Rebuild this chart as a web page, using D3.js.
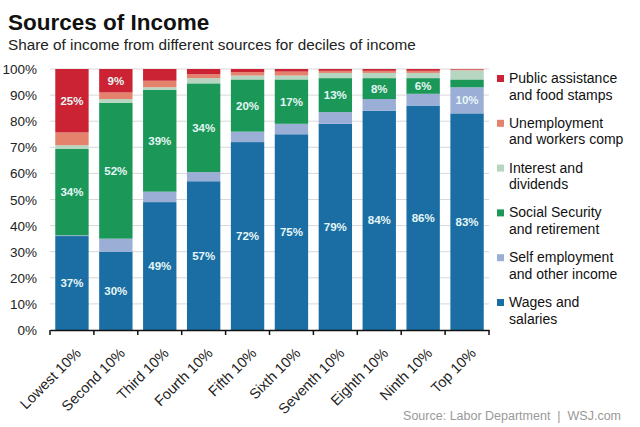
<!DOCTYPE html>
<html>
<head>
<meta charset="utf-8">
<script src="https://cdn.jsdelivr.net/npm/d3@7"></script>
<style>
  body { margin: 0; background: #fff; }
  svg { font-family: "Liberation Sans", Arial, sans-serif; }
</style>
</head>
<body>
<svg id="chart" width="640" height="427"></svg>
<script>
// 数据
const deciles = ["Lowest 10%", "Second 10%", "Third 10%", "Fourth 10%", "Fifth 10%",
  "Sixth 10%", "Seventh 10%", "Eighth 10%", "Ninth 10%", "Top 10%"]
const wages = [37, 30, 49, 57, 72, 75, 79, 84, 86, 83]
const selfEmployment = [0.3, 5, 4, 3.5, 4, 4, 4.5, 4.5, 4.5, 10]
const socialSecurity = [34, 52, 39, 34, 20, 17, 13, 8, 6, 3]
const interest = [1.5, 1.5, 1, 2, 1.5, 1.5, 2, 2, 2, 3.5]
const unemployment = [5, 2.5, 2.5, 1.5, 1.3, 1.5, 0.8, 0.8, 0.8, 0.3]
const publicAssist = [25, 9, 4.5, 2, 1.2, 1, 0.7, 0.7, 0.7, 0.2]
const yTicks = [0, 10, 20, 30, 40, 50, 60, 70, 80, 90, 100]

const series = [
  { key: "wages", name: ["Wages and", "salaries"], color: "#1a6ea4", values: wages },
  { key: "selfEmployment", name: ["Self employment", "and other income"], color: "#9baed6", values: selfEmployment },
  { key: "socialSecurity", name: ["Social Security", "and retirement"], color: "#1b9858", values: socialSecurity },
  { key: "interest", name: ["Interest and", "dividends"], color: "#b6d6c1", values: interest },
  { key: "unemployment", name: ["Unemployment", "and workers comp"], color: "#e5826d", values: unemployment },
  { key: "publicAssist", name: ["Public assistance", "and food stamps"], color: "#cc2334", values: publicAssist }
]

const rows = deciles.map((d, i) => {
  let r = { decile: d }
  series.forEach(s => { r[s.key] = s.values[i] })
  return r
})

const svg = d3.select("#chart")
const margin = { left: 50, right: 151, top: 69, bottom: 97 }
const width = 640, height = 427

const xScale = d3.scaleBand().domain(deciles)
  .range([margin.left, width - margin.right])
  .paddingInner(0.24).paddingOuter(0.12)
const yScale = d3.scaleLinear().domain([0, 1]).range([height - margin.bottom, margin.top])

const stack = d3.stack().keys(series.map(s => s.key)).offset(d3.stackOffsetExpand)
const stacked = stack(rows)

// 标题
svg.append("text").attr("x", 8).attr("y", 30)
  .attr("font-size", 22.5).attr("font-weight", "bold").attr("fill", "#111")
  .text("Sources of Income")
svg.append("text").attr("x", 8).attr("y", 50)
  .attr("font-size", 15.3).attr("fill", "#222")
  .text("Share of income from different sources for deciles of income")

// 网格线
svg.append("g").selectAll("line").data(yTicks.slice(1)).join("line")
  .attr("x1", margin.left).attr("x2", width - margin.right)
  .attr("y1", d => yScale(d / 100)).attr("y2", d => yScale(d / 100))
  .attr("stroke", "#d8d8d8").attr("stroke-width", 1)

// 柱子
const layer = svg.append("g").selectAll("g").data(stacked).join("g")
  .attr("fill", d => series.find(s => s.key === d.key).color)
layer.selectAll("rect").data(d => d).join("rect")
  .attr("x", d => xScale(d.data.decile))
  .attr("width", xScale.bandwidth())
  .attr("y", d => yScale(d[1]))
  .attr("height", d => yScale(d[0]) - yScale(d[1]))

// 数值标签 (只显示 >=5% 的, 自雇只在最高组显示)
stacked.forEach(layerData => {
  let key = layerData.key
  if (key === "interest" || key === "unemployment") return
  layerData.forEach(d => {
    let v = d.data[key]
    if (v < 5) return
    if (key === "selfEmployment" && v < 10) return
    svg.append("text")
      .attr("x", xScale(d.data.decile) + xScale.bandwidth() / 2)
      .attr("y", (yScale(d[0]) + yScale(d[1])) / 2 + 4)
      .attr("text-anchor", "middle")
      .attr("font-size", 11.5).attr("font-weight", "bold")
      .attr("fill", "#e6f6f6")
      .text(Math.round(v) + "%")
  })
})

// 坐标轴
let xAxis = svg.append("g")
  .attr("transform", "translate(0," + (height - margin.bottom) + ")")
  .call(d3.axisBottom(xScale).tickSize(0).tickSizeOuter(0))
xAxis.select(".domain").attr("stroke", "#111").attr("stroke-width", 1.5)
xAxis.selectAll("text")
  .attr("font-size", 14.5).attr("fill", "#222")
  .attr("transform", "rotate(-45)")
  .style("text-anchor", "end")
  .attr("x", -10).attr("y", 24).attr("dy", 0)
// 刻度在柱子之间
let bounds = deciles.map(d => xScale(d) - xScale.step() * xScale.paddingInner() / 2)
bounds.push(width - margin.right)
bounds[0] = margin.left
svg.append("g").selectAll("line").data(bounds).join("line")
  .attr("x1", d => d).attr("x2", d => d)
  .attr("y1", height - margin.bottom).attr("y2", height - margin.bottom + 5)
  .attr("stroke", "#111").attr("stroke-width", 1.5)

svg.append("g").selectAll("text").data(yTicks).join("text")
  .attr("x", 37).attr("y", d => yScale(d / 100) + 5)
  .attr("text-anchor", "end").attr("font-size", 13.5).attr("fill", "#222")
  .text(d => d + "%")

// 图例
const legend = series.slice().reverse()
const lg = svg.append("g").selectAll("g").data(legend).join("g")
  .attr("transform", (d, i) => "translate(497," + (83 + i * 44.8) + ")")
lg.append("rect").attr("x", 0).attr("y", -8).attr("width", 7).attr("height", 7)
  .attr("fill", d => d.color)
lg.append("text").attr("x", 12).attr("font-size", 14).attr("fill", "#111")
  .selectAll("tspan").data(d => d.name).join("tspan")
  .attr("x", 12).attr("dy", (d, i) => i === 0 ? 0 : 16.5)
  .text(d => d)

// 来源
svg.append("text").attr("x", 621).attr("y", 420)
  .attr("text-anchor", "end").attr("font-size", 12.5).attr("fill", "#999")
  .style("white-space", "pre")
  .text("Source: Labor Department  |  WSJ.com")
</script>
</body>
</html>
